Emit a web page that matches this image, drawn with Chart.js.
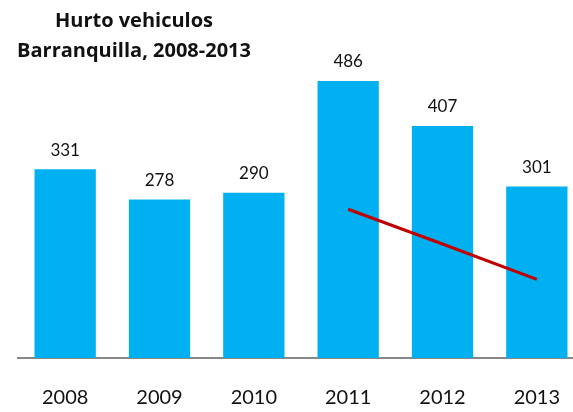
<!DOCTYPE html>
<html>
<head>
<meta charset="utf-8">
<script src="https://cdn.jsdelivr.net/npm/chart.js@4.4.1/dist/chart.umd.min.js"></script>
<style>
    html, body { margin: 0; padding: 0; background: #fff; overflow: hidden; }
    #wrap { position: relative; width: 590px; height: 412px; }
    #title {
        position: absolute; left: 0; top: 5px; width: 268px;
        text-align: center; font-family: "Open Sans", sans-serif; font-weight: bold;
        font-size: 20px; line-height: 30px; color: #111;
    }
</style>
</head>
<body>
<div id="wrap">
    <canvas id="chart" width="590" height="412"></canvas>
    <div id="title">Hurto vehiculos<br>Barranquilla, 2008-2013</div>
</div>
<script>
const years = ['2008', '2009', '2010', '2011', '2012', '2013']
const thefts = [331, 278, 290, 486, 407, 301]
const trend = [null, null, null, 261, 200, 138]

// numbers above each bar
const barLabels = {
    id: 'barLabels',
    afterDatasetsDraw(chart) {
        const ctx = chart.ctx
        const meta = chart.getDatasetMeta(1)
        ctx.save()
        ctx.font = '17px Lato, sans-serif'
        ctx.fillStyle = '#111'
        ctx.textAlign = 'center'
        ctx.textBaseline = 'middle'
        meta.data.forEach((bar, i) => {
            ctx.fillText(thefts[i], bar.x, bar.y - 19)
        })
        ctx.restore()
    }
}

const config = {
    data: {
        labels: years,
        datasets: [
            {
                type: 'line',
                data: trend,
                borderColor: '#C00000',
                borderWidth: 3,
                pointRadius: 0,
                order: 0
            },
            {
                type: 'bar',
                data: thefts,
                backgroundColor: '#00B0F0',
                barPercentage: 0.65,
                categoryPercentage: 1,
                order: 1
            }
        ]
    },
    options: {
        responsive: false,
        animation: false,
        layout: {
            padding: { left: 18, right: 6, top: 16, bottom: 0 }
        },
        plugins: {
            legend: { display: false },
            tooltip: { enabled: false }
        },
        scales: {
            x: {
                grid: { display: false },
                border: { display: true, color: '#888', width: 2 },
                ticks: {
                    color: '#111',
                    padding: 20,
                    maxRotation: 0,
                    autoSkip: false,
                    font: { family: 'Lato, sans-serif', size: 20 }
                },
                afterFit: (scale) => {
                    scale.height = 54
                }
            },
            y: {
                display: false,
                min: 0,
                max: 600
            }
        }
    },
    plugins: [barLabels]
}

const myChart = new Chart(document.getElementById('chart'), config)
</script>
</body>
</html>
